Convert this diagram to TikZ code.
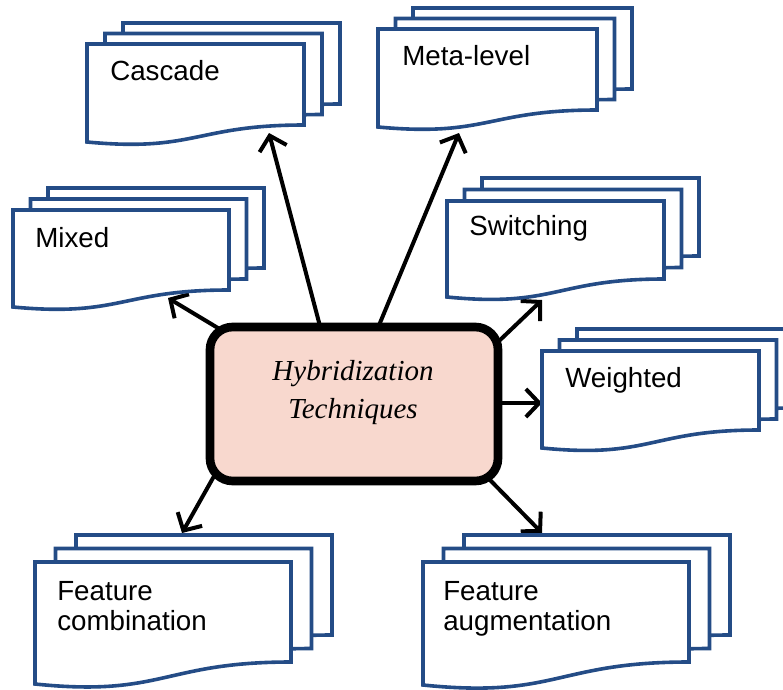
\documentclass[tikz,border=0pt]{standalone}
\usepackage{fontspec}
\setmainfont{Liberation Sans}
\newfontfamily\hubfont{Liberation Serif}
\usetikzlibrary{arrows.meta,calc}
\pgfdeclarelayer{background}
\pgfsetlayers{background,main}
\definecolor{pageblue}{RGB}{36,76,134}
\definecolor{hubpink}{RGB}{248,216,206}

% one sheet with a wavy bottom: left, top, width, right height, left height
\newcommand\docpage[5]{%
  \draw[page] ({#1},{#2}) -- ({#1+#3},{#2}) -- ({#1+#3},{#2+#4})
    .. controls ({#1+0.5*#3},{#2+#4}) and ({#1+0.5*#3},{#2+#5+0.6*(#5-#4)}) ..
    ({#1},{#2+#5}) -- cycle;}
% a stack of three sheets, each shifted by (dx,-dy)
\newcommand\docstack[7]{%
  \docpage{#1+2*(#6)}{#2-2*(#7)}{#3}{#4}{#5}%
  \docpage{#1+#6}{#2-#7}{#3}{#4}{#5}%
  \docpage{#1}{#2}{#3}{#4}{#5}}

\tikzset{
  page/.style={draw=pageblue, line width=2.7pt, fill=white, line join=miter},
  lbl/.style={font=\fontsize{20.8}{22.5}\selectfont, anchor=base west, align=left, inner sep=0pt},
  hub/.style={draw=black, line width=6.5pt, fill=hubpink, rounded corners=17pt,
    minimum width=216pt, minimum height=115.5pt, inner sep=0pt},
  hubtext/.style={font=\hubfont\itshape\fontsize{21.75}{28.5}\selectfont, align=center,
    anchor=base, inner sep=0pt},
  arr/.style={line width=3pt, -{Straight Barb[length=10pt,width=21pt]}}
}

\begin{document}
\begin{tikzpicture}[x=0.75pt, y=-0.75pt]
\useasboundingbox (0,0) rectangle (783,690);
\clip (0,0) rectangle (783,690);

% document stacks
\docstack{87}{44}{217}{81}{98}{18}{10.5}
\docstack{378}{29}{219}{81}{98}{17.5}{10.5}
\docstack{13}{210}{216}{80}{97}{17.5}{11}
\docstack{447}{201}{217}{78}{96}{17.5}{11.5}
\docstack{542}{351}{217}{79}{97}{17.5}{11}
\docstack{35}{562}{256}{100}{122}{20.5}{13.5}
\docstack{423}{562}{266}{100}{123}{20.5}{13.5}

% labels (base = baseline of the last line)
\node[lbl] (cascade-lbl) at (110,80) {Cascade};
\node[lbl] (meta-lbl) at (402,65) {Meta-level};
\node[lbl] (mixed-lbl) at (35,247) {Mixed};
\node[lbl] (switching-lbl) at (469,235) {Switching};
\node[lbl] (weighted-lbl) at (565,387) {Weighted};
\node[lbl] (fcomb-lbl) at (57,630) {Feature\\combination};
\node[lbl] (faug-lbl) at (443,630) {Feature\\augmentation};

% arrow targets on the sheets
\coordinate (cascade) at (269,133);
\coordinate (meta) at (459,133);
\coordinate (mixed) at (168,298);
\coordinate (switching) at (542,300);
\coordinate (weighted) at (542,403);
\coordinate (fcomb) at (182,533);
\coordinate (faug) at (542,533);

% central box
\node[hub] (hub) at (354,404) {};
\node[hubtext] (hub-lbl) at ($(hub.center)+(-1,14)$) {Hybridization\\Techniques};

% arrows start under the box
\begin{pgfonlayer}{background}
  \draw[arr] ($(hub.center)+(-31,-66.5)$) -- (cascade);
  \draw[arr] ($(hub.center)+(20.2,-67.2)$) -- (meta);
  \draw[arr] ($(hub.center)+(-118.9,-65.7)$) -- (mixed);
  \draw[arr] ($(hub.center)+(129.5,-48.2)$) -- (switching);
  \draw[arr] ($(hub.center)+(131,-1)$) -- (weighted);
  \draw[arr] ($(hub.center)+(-131.2,56.6)$) -- (fcomb);
  \draw[arr] ($(hub.center)+(122,61.7)$) -- (faug);
\end{pgfonlayer}
\end{tikzpicture}
\end{document}
